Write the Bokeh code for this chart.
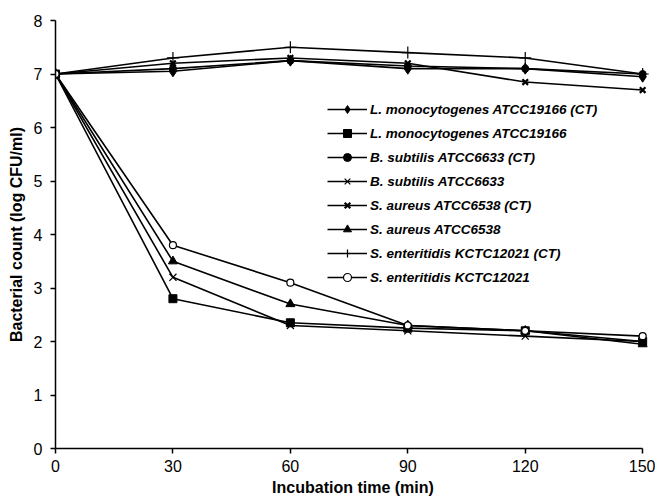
from bokeh.plotting import figure
from bokeh.models import Legend, LegendItem, Range1d, FixedTicker
from bokeh.embed import file_html
from bokeh.resources import INLINE

time_min = [0, 30, 60, 90, 120, 150]

series_names = [
    "L. monocytogenes ATCC19166 (CT)",
    "L. monocytogenes ATCC19166",
    "B. subtilis ATCC6633 (CT)",
    "B. subtilis ATCC6633",
    "S. aureus ATCC6538 (CT)",
    "S. aureus ATCC6538",
    "S. enteritidis KCTC12021 (CT)",
    "S. enteritidis KCTC12021",
]

lmono_ct = [7.0, 7.05, 7.25, 7.1, 7.1, 6.95]
lmono = [7.0, 2.8, 2.35, 2.25, 2.2, 2.0]
bsub_ct = [7.0, 7.1, 7.25, 7.15, 7.1, 7.0]
bsub = [7.0, 3.2, 2.3, 2.2, 2.1, 2.0]
saur_ct = [7.0, 7.2, 7.3, 7.2, 6.85, 6.7]
saur = [7.0, 3.5, 2.7, 2.3, 2.2, 1.95]
sent_ct = [7.0, 7.3, 7.5, 7.4, 7.3, 7.0]
sent = [7.0, 3.8, 3.1, 2.3, 2.2, 2.1]

series_values = [lmono_ct, lmono, bsub_ct, bsub, saur_ct, saur, sent_ct, sent]

x_ticks = [0, 30, 60, 90, 120, 150]
y_ticks = [0, 1, 2, 3, 4, 5, 6, 7, 8]

# marker styles: (marker, size, fill, line_width)
styles = [
    ("diamond", 11, "black", 1),
    ("square", 8, "black", 1),
    ("circle", 7, "black", 1),
    ("x", 10, "black", 1.2),
    ("x", 8, "black", 2.2),
    ("triangle", 9, "black", 1),
    ("cross", 12, "black", 1.2),
    ("circle", 7, "white", 1.2),
]

p = figure(width=655, height=498, output_backend="svg", toolbar_location=None,
           x_range=Range1d(0, 152), y_range=Range1d(0, 8),
           min_border_left=55, min_border_right=5, min_border_top=20, min_border_bottom=50)
p.outline_line_color = None
p.xgrid.visible = False
p.ygrid.visible = False
p.background_fill_color = "white"
p.border_fill_color = "white"

items = []
for name, vals, (mk, sz, fill, lw) in zip(series_names, series_values, styles):
    lr = p.line(time_min, vals, line_color="black", line_width=1.6)
    sr = p.scatter(time_min, vals, marker=mk, size=sz, fill_color=fill,
                   line_color="black", line_width=lw)
    items.append(LegendItem(label=name, renderers=[lr, sr]))

legend = Legend(items=items, location=(272, 161))
legend.border_line_color = None
legend.background_fill_alpha = 0
legend.padding = 0
legend.margin = 0
legend.spacing = 4
legend.glyph_width = 40
legend.glyph_height = 20
legend.label_height = 20
legend.label_standoff = 3
legend.label_text_font = "Liberation Sans"
legend.label_text_font_style = "bold italic"
legend.label_text_font_size = "13.5px"
legend.label_text_color = "black"
p.add_layout(legend, "center")

for ax in (p.xaxis[0], p.yaxis[0]):
    ax.axis_line_width = 1.5
    ax.axis_line_color = "black"
    ax.major_tick_line_color = "black"
    ax.major_tick_line_width = 1.5
    ax.major_tick_out = 5
    ax.major_tick_in = 0
    ax.minor_tick_line_color = None
    ax.major_label_text_font = "Liberation Sans"
    ax.major_label_text_font_size = "16px"
    ax.major_label_text_color = "black"
    ax.axis_label_text_font = "Liberation Sans"
    ax.axis_label_text_font_style = "bold"
    ax.axis_label_text_font_size = "16px"
    ax.axis_label_text_color = "black"

p.xaxis[0].ticker = FixedTicker(ticks=x_ticks)
p.yaxis[0].ticker = FixedTicker(ticks=y_ticks)
p.xaxis[0].bounds = (0, 150)
p.xaxis[0].axis_label = "Incubation time (min)"
p.yaxis[0].axis_label = "Bacterial count (log CFU/ml)"
p.xaxis[0].major_label_standoff = 6
p.yaxis[0].major_label_standoff = 8
p.xaxis[0].axis_label_standoff = 4
p.yaxis[0].axis_label_standoff = 6

open("out.html", "w").write(file_html(p, INLINE))
